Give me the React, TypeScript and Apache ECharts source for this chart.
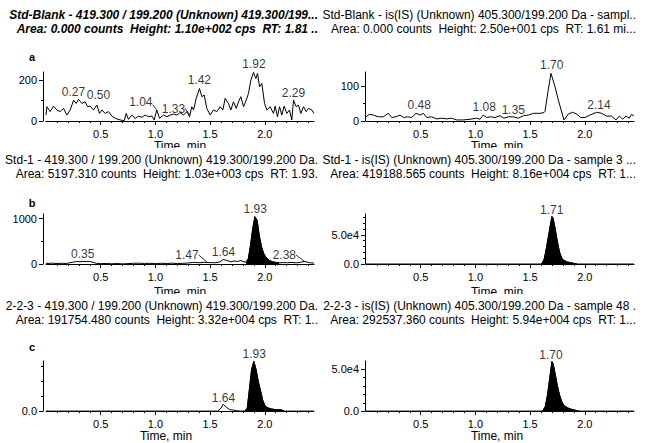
import React, { useEffect, useRef } from 'react';
import * as echarts from 'echarts';

const FONT = '"Liberation Sans", Arial, Helvetica, sans-serif';

// ---------- Panel a : Std-Blank, analyte ----------
const aTime = [
  0.000, 0.008, 0.038, 0.069, 0.099, 0.130, 0.160, 0.191, 0.221, 0.252,
  0.276, 0.297, 0.328, 0.358, 0.380, 0.404, 0.434, 0.465, 0.489, 0.511,
  0.541, 0.572, 0.602, 0.633, 0.678, 0.715, 0.733, 0.754, 0.785, 0.815,
  0.846, 0.876, 0.907, 0.937, 0.968, 0.989, 1.013, 1.038, 1.074, 1.105,
  1.135, 1.166, 1.196, 1.227, 1.257, 1.288, 1.312, 1.333, 1.349, 1.373,
  1.403, 1.425, 1.446, 1.470, 1.501, 1.531, 1.562, 1.592, 1.617, 1.638,
  1.668, 1.690, 1.714, 1.739, 1.760, 1.781, 1.806, 1.830, 1.851, 1.873,
  1.897, 1.918, 1.934, 1.952, 1.973, 1.998, 2.019, 2.049, 2.080, 2.095,
  2.116, 2.135, 2.156, 2.177, 2.202, 2.226, 2.247, 2.263, 2.287, 2.308,
  2.330, 2.354, 2.378, 2.400, 2.430, 2.450,
];
const aValue = [
  29, 70, 46, 73, 54, 46, 62, 29, 54, 102,
  86, 106, 86, 94, 70, 73, 54, 78, 37, 54,
  37, 46, 24, 13, 5, 2, 37, 8, 29, 13,
  24, 18, 29, 21, 24, 5, 54, 13, 29, 21,
  29, 34, 29, 41, 29, 46, 21, 70, 54, 111,
  159, 119, 127, 62, 29, 54, 46, 70, 54, 111,
  86, 54, 94, 62, 94, 119, 70, 102, 135, 200,
  238, 208, 233, 167, 184, 86, 54, 70, 37, 73,
  21, 70, 29, 73, 37, 54, 5, 102, 70, 78,
  37, 70, 46, 62, 54, 37,
];
const aPeakText = ['0.27', '0.50', '1.04', '1.33', '1.42', '1.92', '2.29'];
const aPeakTime = [0.251, 0.480, 0.867, 1.165, 1.402, 1.901, 2.262];
const aPeakValue = [111, 94, 62, 29, 167, 248, 104];
const aLeaderTime = [[0.975, 1.01], [1.27, 1.315]];
const aLeaderValue = [[80, 56], [62, 30]];

// ---------- Panel a' : Std-Blank, IS ----------
const arTime = [
  0.000, 0.030, 0.067, 0.112, 0.158, 0.204, 0.235, 0.274, 0.311, 0.341,
  0.378, 0.418, 0.457, 0.494, 0.524, 0.555, 0.600, 0.646, 0.692, 0.737,
  0.783, 0.829, 0.890, 0.951, 1.012, 1.042, 1.072, 1.103, 1.139, 1.179,
  1.225, 1.261, 1.301, 1.347, 1.393, 1.438, 1.484, 1.530, 1.591, 1.627,
  1.636, 1.666, 1.691, 1.728, 1.758, 1.810, 1.850, 1.889, 1.926, 1.962,
  2.002, 2.047, 2.108, 2.154, 2.199, 2.245, 2.285, 2.316, 2.347, 2.377,
  2.407, 2.429, 2.450,
];
const arValue = [
  12, 19, 17, 12, 12, 22, 10, 12, 17, 10,
  12, 10, 22, 17, 22, 10, 12, 6, 8, 6,
  8, 3, 3, 5, 8, 5, 17, 10, 12, 10,
  15, 8, 12, 12, 8, 15, 17, 22, 22, 24,
  27, 89, 136, 98, 60, 3, 20, 25, 20, 10,
  10, 17, 25, 22, 14, 14, 3, 14, 5, 14,
  8, 19, 14,
];
const arPeakText = ['0.48', '1.08', '1.35', '1.70', '2.14'];
const arPeakTime = [0.486, 1.080, 1.347, 1.697, 2.130];
const arPeakValue = [26, 21, 12, 141, 27];

// ---------- Panel b : Std-1, analyte ----------
const bTime = [
  0.00, 0.05, 0.10, 0.15, 0.19, 0.22, 0.25, 0.28, 0.31, 0.34,
  0.37, 0.40, 0.43, 0.46, 0.50, 0.55, 0.60, 0.65, 0.70, 0.75,
  0.80, 0.85, 0.90, 0.95, 1.00, 1.05, 1.10, 1.15, 1.20, 1.25,
  1.30, 1.35, 1.40, 1.45, 1.50, 1.55, 1.59, 1.62, 1.65, 1.69,
  1.72, 1.75, 1.78, 1.81, 1.83, 1.85, 1.87, 1.89, 1.91, 1.93,
  1.95, 1.97, 1.99, 2.01, 2.04, 2.07, 2.10, 2.13, 2.17, 2.21,
  2.25, 2.29, 2.33, 2.36, 2.39, 2.42, 2.45,
];
const bValue = [
  12, 18, 12, 15, 12, 30, 42, 55, 50, 58,
  52, 55, 38, 15, 8, 12, 5, 10, 3, 8,
  15, 18, 12, 15, 10, 15, 12, 18, 10, 15,
  22, 35, 28, 38, 30, 28, 45, 100, 80, 50,
  65, 55, 75, 50, 40, 120, 420, 780, 1040, 960,
  620, 380, 230, 150, 80, 50, 35, 25, 30, 28,
  35, 25, 40, 55, 40, 25, 20,
];
const bPeakText = ['0.35', '1.47', '1.64', '1.93', '2.38'];
const bPeakTime = [0.335, 1.288, 1.622, 1.912, 2.179];
const bPeakValue = [84, 51, 125, 1078, 51];
const bLeaderTime = [[1.395, 1.47], [2.285, 2.37]];
const bLeaderValue = [[200, 45], [200, 45]];
const bFill = [1.83, 2.13];

// ---------- Panel b' : Std-1, IS ----------
const brTime = [0, 1.60, 1.61, 1.63, 1.65, 1.67, 1.69, 1.70, 1.71, 1.73, 1.75, 1.77, 1.79, 1.81, 1.84, 1.87, 1.90, 1.93, 2.45];
const brValue = [0, 0, 1500, 9000, 28000, 50000, 72000, 81600, 79000, 60000, 38000, 20000, 10000, 6000, 3500, 2200, 1000, 0, 0];
const brPeakText = ['1.71'];
const brPeakTime = [1.697];
const brPeakValue = [81200];
const brFill = [1.60, 1.93];

// ---------- Panel c : 2-2-3, analyte ----------
const cTime = [0, 1.57, 1.60, 1.62, 1.65, 1.68, 1.71, 1.74, 1.78, 1.82, 1.84, 1.86, 1.88, 1.90, 1.92, 1.94, 1.96, 1.98, 2.00, 2.02, 2.06, 2.10, 2.15, 2.18, 2.45];
const cValue = [0, 0, 2000, 4600, 2500, 1000, 700, 300, 0, 100, 2000, 15000, 28000, 33200, 28000, 20000, 14000, 7500, 4000, 2400, 1400, 1000, 800, 0, 0];
const cPeakText = ['1.64', '1.93'];
const cPeakTime = [1.622, 1.903];
const cPeakValue = [4730, 33800];
const cFill = [1.82, 2.18];

// ---------- Panel c' : 2-2-3, IS ----------
const crTime = [0, 1.61, 1.62, 1.64, 1.66, 1.68, 1.70, 1.71, 1.73, 1.75, 1.77, 1.79, 1.81, 1.84, 1.87, 1.90, 1.93, 1.95, 2.45];
const crValue = [0, 0, 1000, 6000, 20000, 40000, 59400, 57000, 44000, 30000, 19000, 11000, 7000, 4000, 2500, 1500, 400, 0, 0];
const crPeakText = ['1.70'];
const crPeakTime = [1.690];
const crPeakValue = [59400];
const crFill = [1.61, 1.95];

// ---------- Axes ----------
const xMajorTicks = [0.5, 1.0, 1.5, 2.0];
const xMinorTicks = [0.1, 0.2, 0.3, 0.4, 0.6, 0.7, 0.8, 0.9, 1.1, 1.2, 1.3, 1.4, 1.6, 1.7, 1.8, 1.9, 2.1, 2.2, 2.3, 2.4];
const xRange = [0, 2.45];
const xTitle = 'Time, min';

// ---------- Titles ----------
const titlesLeft = [
  ['Std-Blank - 419.300 / 199.200 (Unknown) 419.300/199...', 'Area: 0.000 counts  Height: 1.10e+002 cps  RT: 1.81 ..'],
  ['Std-1 - 419.300 / 199.200 (Unknown) 419.300/199.200 Da.', 'Area: 5197.310 counts  Height: 1.03e+003 cps  RT: 1.93.'],
  ['2-2-3 - 419.300 / 199.200 (Unknown) 419.300/199.200 Da.', 'Area: 191754.480 counts  Height: 3.32e+004 cps  RT: 1..'],
];
const titlesRight = [
  ['Std-Blank - is(IS) (Unknown) 405.300/199.200 Da - sampl..', 'Area: 0.000 counts  Height: 2.50e+001 cps  RT: 1.61 mi...'],
  ['Std-1 - is(IS) (Unknown) 405.300/199.200 Da - sample 3 ...', 'Area: 419188.565 counts  Height: 8.16e+004 cps  RT: 1...'],
  ['2-2-3 - is(IS) (Unknown) 405.300/199.200 Da - sample 48 .', 'Area: 292537.360 counts  Height: 5.94e+004 cps  RT: 1...'],
];
const panelLetters = ['a', 'b', 'c'];

const fmtInt = (v: number) => String(Math.round(v));
const fmtE4 = (v: number) => (v === 0 ? '0.0' : (v / 1e4).toFixed(1) + 'e4');

type Panel = {
  row: number; col: number;
  time: number[]; value: number[];
  yMax: number; yLabels: number[]; yMinor: number[]; fmt: (v: number) => string;
  peakText: string[]; peakTime: number[]; peakValue: number[];
  leaderTime: number[][]; leaderValue: number[][];
  fill: number[] | null;
};

const panels: Panel[] = [
  { row: 0, col: 0, time: aTime, value: aValue, yMax: 240, yLabels: [0, 200], yMinor: [100], fmt: fmtInt, peakText: aPeakText, peakTime: aPeakTime, peakValue: aPeakValue, leaderTime: aLeaderTime, leaderValue: aLeaderValue, fill: null },
  { row: 0, col: 1, time: arTime, value: arValue, yMax: 140, yLabels: [0, 100], yMinor: [50], fmt: fmtInt, peakText: arPeakText, peakTime: arPeakTime, peakValue: arPeakValue, leaderTime: [], leaderValue: [], fill: null },
  { row: 1, col: 0, time: bTime, value: bValue, yMax: 1100, yLabels: [0, 1000], yMinor: [500], fmt: fmtInt, peakText: bPeakText, peakTime: bPeakTime, peakValue: bPeakValue, leaderTime: bLeaderTime, leaderValue: bLeaderValue, fill: bFill },
  { row: 1, col: 1, time: brTime, value: brValue, yMax: 86000, yLabels: [0, 50000], yMinor: [10000, 20000, 30000, 40000, 60000, 70000, 80000], fmt: fmtE4, peakText: brPeakText, peakTime: brPeakTime, peakValue: brPeakValue, leaderTime: [], leaderValue: [], fill: brFill },
  { row: 2, col: 0, time: cTime, value: cValue, yMax: 33500, yLabels: [0], yMinor: [10000, 20000, 30000], fmt: fmtE4, peakText: cPeakText, peakTime: cPeakTime, peakValue: cPeakValue, leaderTime: [], leaderValue: [], fill: cFill },
  { row: 2, col: 1, time: crTime, value: crValue, yMax: 60000, yLabels: [0, 50000], yMinor: [10000, 20000, 30000, 40000], fmt: fmtE4, peakText: crPeakText, peakTime: crPeakTime, peakValue: crPeakValue, leaderTime: [], leaderValue: [], fill: crFill },
];

// ---------- Layout ----------
const GRID_LEFT = [46, 366];
const Y_OFFSET = [3, 1];
const GRID_WIDTH = 268;
const ROW_TOP = [72, 214, 361];
const ROW_HEIGHT = [49, 50, 51];
const NAME_GAP = [19, 22, 16];
const TITLE_Y = [[15, 29], [160, 174], [306, 320]];
const TITLE_RIGHT = [329, 11];
const LETTER_Y = [57, 203, 347];

function buildOption() {
  const grid: any[] = [];
  const xAxis: any[] = [];
  const yAxis: any[] = [];
  const series: any[] = [];
  const title: any[] = [];
  const baseText = { fontFamily: FONT, color: '#000' };

  panels.forEach((p, i) => {
    grid.push({ left: GRID_LEFT[p.col], top: ROW_TOP[p.row], width: GRID_WIDTH, height: ROW_HEIGHT[p.row], containLabel: false });
    const namePad = p.col === 0 ? (p.row === 2 ? [0, 28, 0, 0] : [0, 0, 0, 0]) : [0, 6, 0, 0];
    xAxis.push({
      type: 'value', gridIndex: i, min: xRange[0], max: xRange[1], position: 'bottom',
      axisLine: { show: true, onZero: false, lineStyle: { color: '#000', width: 1 } },
      axisTick: { show: true, length: 4, customValues: xMajorTicks, lineStyle: { color: '#000' } },
      axisLabel: { show: true, customValues: xMajorTicks, formatter: (v: number) => v.toFixed(1), fontSize: 11, margin: 7, ...baseText },
      splitLine: { show: false },
      name: xTitle, nameLocation: 'middle', nameGap: NAME_GAP[p.row],
      nameTextStyle: { fontSize: 12, padding: namePad, ...baseText },
    });
    xAxis.push({
      type: 'value', gridIndex: i, min: xRange[0], max: xRange[1], position: 'bottom',
      axisLine: { show: false, onZero: false },
      axisTick: { show: true, length: 2, customValues: xMinorTicks, lineStyle: { color: '#000' } },
      axisLabel: { show: false }, splitLine: { show: false },
    });
    yAxis.push({
      type: 'value', gridIndex: i, min: 0, max: p.yMax, position: 'left', offset: Y_OFFSET[p.col],
      axisLine: { show: true, onZero: false, lineStyle: { color: '#000', width: 1 } },
      axisTick: { show: true, length: 4, customValues: p.yLabels, lineStyle: { color: '#000' } },
      axisLabel: { show: true, customValues: p.yLabels, formatter: p.fmt, fontSize: 11, margin: 6, ...baseText },
      splitLine: { show: false },
    });
    yAxis.push({
      type: 'value', gridIndex: i, min: 0, max: p.yMax, position: 'left', offset: Y_OFFSET[p.col],
      axisLine: { show: false, onZero: false },
      axisTick: { show: true, length: 2, customValues: p.yMinor, lineStyle: { color: '#000' } },
      axisLabel: { show: false }, splitLine: { show: false },
    });

    const pts = p.time.map((t, k) => [t, p.value[k]]);
    series.push({
      type: 'line', xAxisIndex: 2 * i, yAxisIndex: 2 * i, data: pts,
      symbol: 'none', lineStyle: { color: '#000', width: 1 }, itemStyle: { color: '#000' }, silent: true,
    });
    if (p.fill) {
      const f = p.fill;
      series.push({
        type: 'line', xAxisIndex: 2 * i, yAxisIndex: 2 * i,
        data: pts.filter((q) => q[0] >= f[0] && q[0] <= f[1]),
        symbol: 'none', lineStyle: { color: '#000', width: 1 }, areaStyle: { color: '#000', opacity: 1 }, silent: true,
      });
    }
    p.leaderTime.forEach((lt, k) => {
      series.push({
        type: 'line', xAxisIndex: 2 * i, yAxisIndex: 2 * i, clip: false, silent: true,
        data: [[lt[0], p.leaderValue[k][0]], [lt[1], p.leaderValue[k][1]]],
        symbol: 'none', lineStyle: { color: '#000', width: 0.8 },
      });
    });
    const texts = p.peakText;
    series.push({
      type: 'scatter', xAxisIndex: 2 * i, yAxisIndex: 2 * i, clip: false, silent: true,
      data: p.peakTime.map((t, k) => [t, p.peakValue[k]]),
      symbolSize: 1, itemStyle: { color: 'rgba(0,0,0,0)' },
      label: { show: true, position: 'top', distance: 0, formatter: (q: any) => texts[q.dataIndex], fontSize: 12, ...baseText },
    });
  });

  [titlesLeft, titlesRight].forEach((set, col) => {
    set.forEach((lines, row) => {
      lines.forEach((txt, li) => {
        const bold = row === 0 && col === 0;
        title.push({
          text: txt, right: TITLE_RIGHT[col], top: TITLE_Y[row][li] - 7, padding: 0,
          textStyle: { fontSize: 12, lineHeight: 14, fontWeight: bold ? 'bold' : 'normal', fontStyle: bold ? 'italic' : 'normal', ...baseText },
        });
      });
    });
  });

  const graphic: any[] = [
    { type: 'rect', z: 100, shape: { x: 0, y: 148, width: 647, height: 5 }, style: { fill: '#fff' } },
    { type: 'rect', z: 100, shape: { x: 0, y: 294, width: 647, height: 5 }, style: { fill: '#fff' } },
  ];
  panelLetters.forEach((l, r) => {
    graphic.push({
      type: 'text', z: 100, x: 32, y: LETTER_Y[r],
      style: { text: l, fontSize: 11, fontWeight: 'bold', fontFamily: FONT, fill: '#000', textAlign: 'center', textVerticalAlign: 'middle' },
    });
  });

  return { animation: false, backgroundColor: '#fff', title, grid, xAxis, yAxis, series, graphic };
}

export default function App() {
  const ref = useRef<HTMLDivElement>(null);
  useEffect(() => {
    const chart = echarts.init(ref.current!, null, { renderer: 'svg' });
    chart.setOption(buildOption() as any);
    return () => chart.dispose();
  }, []);
  return <div ref={ref} style={{ position: 'absolute', left: 0, top: 0, width: 647, height: 443, background: '#fff' }} />;
}
